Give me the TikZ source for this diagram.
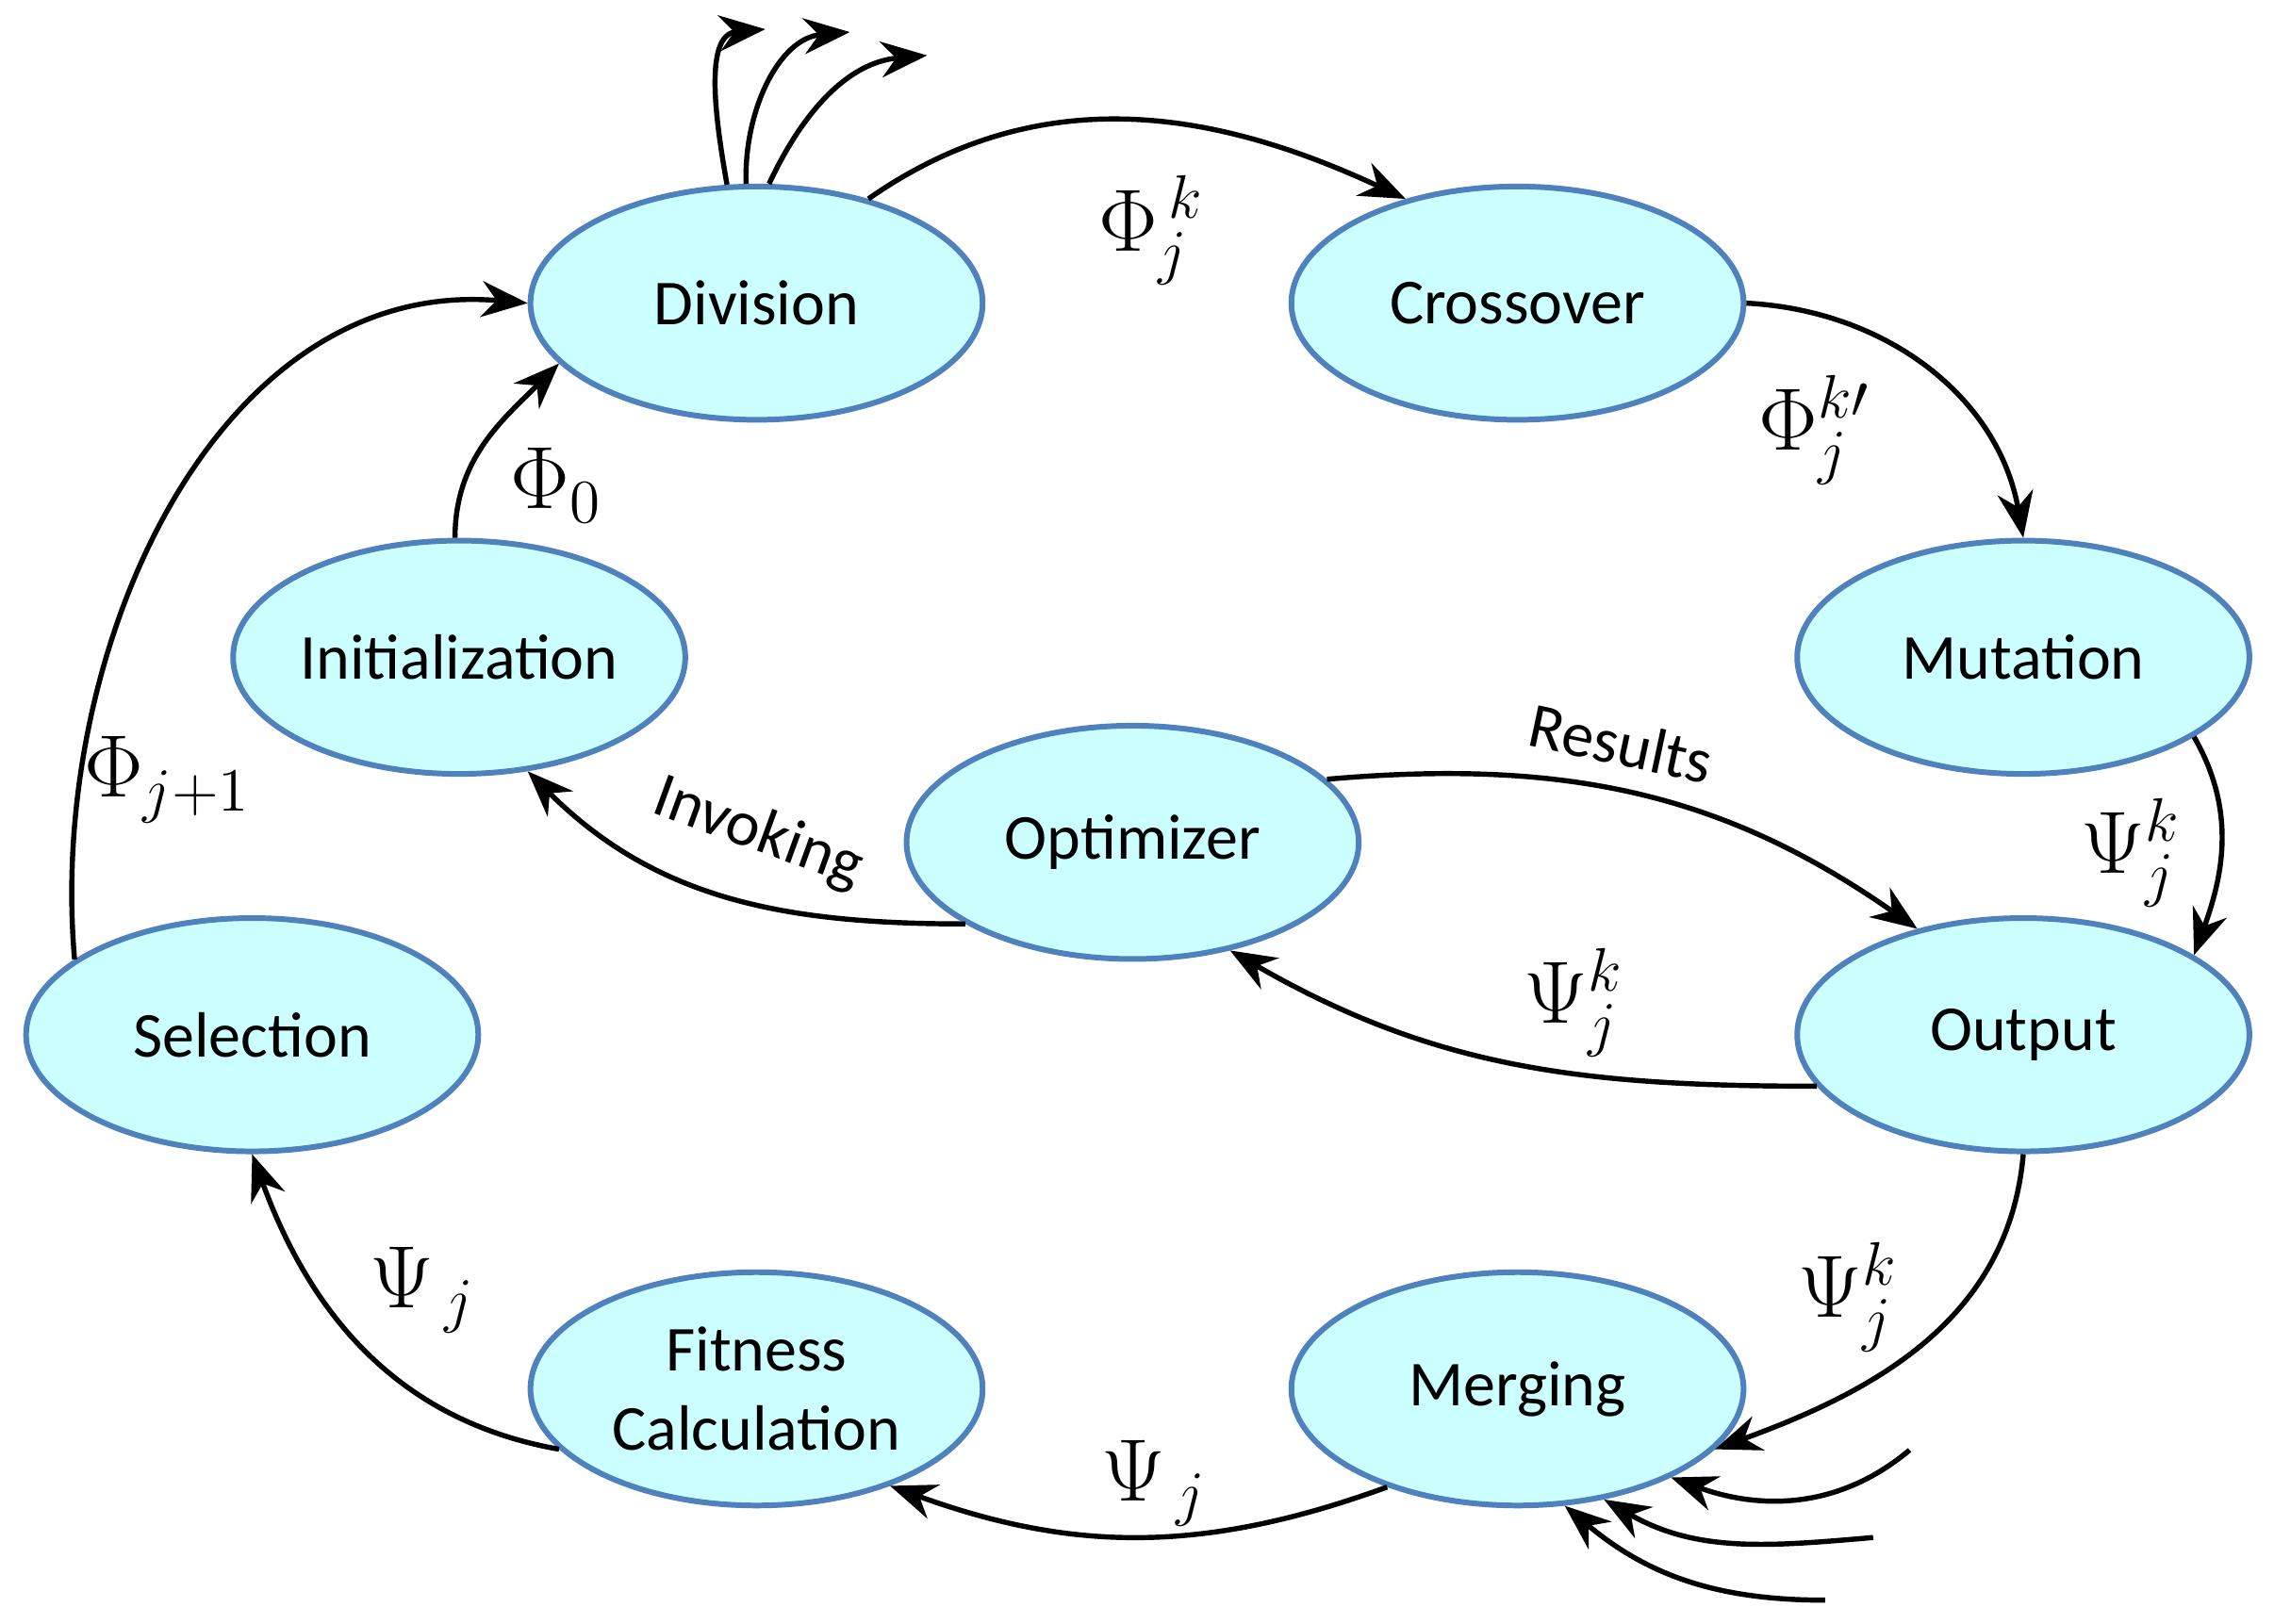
\documentclass[tikz,border=0pt]{standalone}
\usepackage{fontspec}
\setmainfont{Carlito}
\usetikzlibrary{shapes.geometric,arrows.meta}
\begin{document}
\begin{tikzpicture}[x=0.01cm,y=-0.01cm,
  st/.style={ellipse,draw={rgb,255:red,79;green,129;blue,189},line width=1.1pt,fill={rgb,255:red,204;green,255;blue,255},minimum width=3.1cm,minimum height=1.6cm,inner sep=0pt,font=\fontsize{12.5}{15.5}\selectfont,align=center},
  ar/.style={-{Stealth[length=9pt,width=7pt]},line width=1pt},
  ml/.style={font=\fontsize{17}{20}\selectfont},
  tl/.style={font=\fontsize{12.5}{15}\selectfont,inner sep=0pt}]
\useasboundingbox (0,0) rectangle (1560,1114);
\node[st] (div) at (519,208) {Division};
\node[st] (cro) at (1041,208) {Crossover};
\node[st] (mut) at (1388,451) {Mutation};
\node[st] (out) at (1388,710) {Output};
\node[st] (mer) at (1041,953) {Merging};
\node[st] (fit) at (519,953) {Fitness\\Calculation};
\node[st] (sel) at (173,710) {Selection};
\node[st] (ini) at (315,451) {Initialization};
\node[st] (opt) at (777,578) {Optimizer};
\draw[ar] (div.43) to[out=35,in=155] (cro.137);
\draw[ar] (cro.0) to[out=-3,in=100] (mut.90);
\draw[ar] (mut.-25) to[out=-60,in=70] (out.25);
\draw[ar] (out.-90) to[out=-95,in=20] (mer.-17);
\draw[ar] (mer.-143) to[out=-160,in=-20] (fit.-36);
\draw[ar] (fit.-163) to[out=170,in=-70] (sel.-90);
\draw[ar] (sel.157) to[out=95,in=175] (div.180);
\draw[ar] (ini.92) to[out=90,in=-135] (div.-163);
\draw[ar] (opt.-154) to[out=180,in=-45] (ini.-59);
\draw[ar] (opt.18) to[out=5,in=145] (out.135);
\draw[ar] (out.-166) to[out=180,in=-30] (opt.-48);
\coordinate (t1) at (525,20); \coordinate (t2) at (583,22); \coordinate (t3) at (636,38);
\draw[ar] (div.104) to[out=100,in=185] (t1);
\draw[ar] (div.95) to[out=92,in=185] (t2);
\draw[ar] (div.84) to[out=65,in=185] (t3);
\coordinate (m1) at (1310,995); \coordinate (m2) at (1285,1055); \coordinate (m3) at (1252,1098);
\draw[ar] (m1) to[out=-140,in=-20] (mer.-30);
\draw[ar] (m2) to[out=185,in=-30] (mer.-52);
\draw[ar] (m3) to[out=180,in=-40] (mer.-68);
\node[ml] (l1) at (790,158) {$\Phi_j^{\,k}$};
\node[ml] (l2) at (1245,295) {$\Phi_j^{k\prime}$};
\node[ml] (l3) at (1462,585) {$\Psi_j^{k}$};
\node[ml] (l4) at (1268,890) {$\Psi_j^{k}$};
\node[ml] (l5) at (1080,688) {$\Psi_j^{k}$};
\node[ml] (l6) at (792,1018) {$\Psi_{\,j}$};
\node[ml] (l7) at (290,885) {$\Psi_{\,j}$};
\node[ml] (l8) at (115,535) {$\Phi_{j+1}$};
\node[ml] (l9) at (382,333) {$\Phi_0$};
\node[tl,rotate=-20] (inv) at (520,572) {Invoking};
\node[tl,rotate=-12] (res) at (1112,510) {Results};
\end{tikzpicture}
\end{document}
